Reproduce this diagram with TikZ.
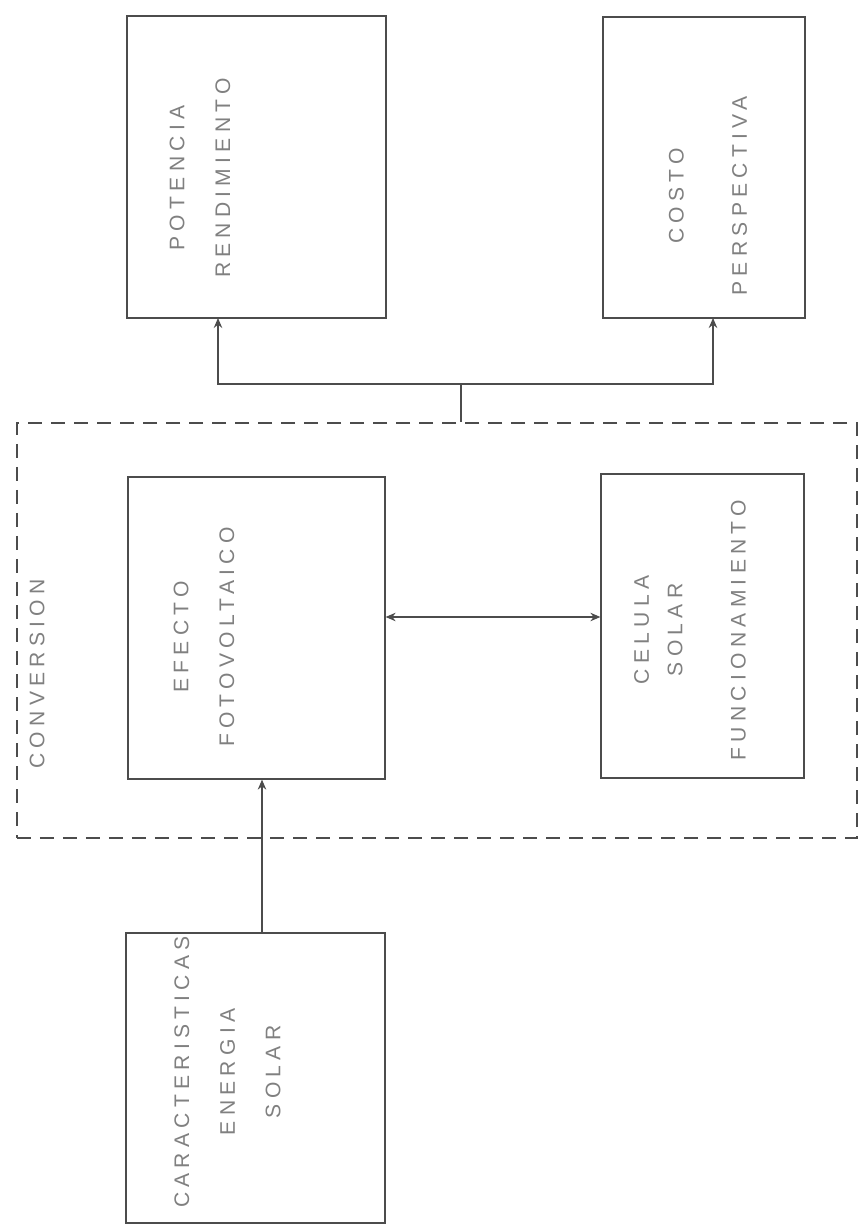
\documentclass[tikz,border=0pt]{standalone}
\usepackage{fontspec}
\newfontfamily\boxfont[LetterSpace=25]{Liberation Sans}
\usetikzlibrary{arrows.meta, positioning}

\begin{document}
\begin{tikzpicture}[x=0.2mm, y=-0.2mm,
    box/.style={draw=black!70, line width=0.7pt, rectangle, inner sep=0pt},
    lbl/.style={rotate=90, align=center, text=black!50, font=\boxfont\fontsize{12}{26}\selectfont},
    flecha/.style={draw=black!70, line width=0.7pt, -{Stealth[length=2mm, width=1.7mm]}}]
    \useasboundingbox (0,0) rectangle (859,1226);

    % Cajas de resultados
    \node (pot) [box, minimum width=51.8mm, minimum height=60.4mm] at (256.5,167) {};
    \node (cost) [box, minimum width=40.4mm, minimum height=60.2mm] at (704,167.5) {};
    \node (potT) [lbl] at (200,178) {POTENCIA\\RENDIMIENTO};
    \node (costT) [lbl] at (708,196) {COSTO\\[10pt]PERSPECTIVA};

    % Bloque de conversion
    \node (conv) [draw=black!70, line width=0.7pt, dash pattern=on 2.8mm off 1.8mm, rectangle, minimum width=168mm, minimum height=83mm] at (437,630.5) {};
    \node (convT) [lbl] at (37,674) {CONVERSION};
    \node (efe) [box, minimum width=51.4mm, minimum height=60.4mm] at (256.5,628) {};
    \node (cel) [box, minimum width=40.6mm, minimum height=60.8mm] at (702.5,626) {};
    \node (efeT) [lbl] at (204,637) {EFECTO\\FOTOVOLTAICO};
    \node (celT) [lbl] at (690,630) {CELULA\\[-7pt]SOLAR\\[10pt]FUNCIONAMIENTO};

    % Caja de entrada
    \node (car) [box, minimum width=51.8mm, minimum height=58mm] at (255.5,1078) {};
    \node (carT) [lbl] at (227.5,1072) {CARACTERISTICAS\\ENERGIA\\SOLAR};

    % Flechas
    \coordinate (rama) at (461,384);
    \draw[draw=black!70, line width=0.7pt] (rama) -- (rama |- conv.north);
    \draw[flecha] (rama) -| (713,318);
    \draw[flecha] (rama) -| (218,318);
    \draw[flecha, {Stealth[length=2mm, width=1.7mm]}-{Stealth[length=2mm, width=1.7mm]}] (efe.east |- 0,617) -- (cel.west |- 0,617);
    \draw[flecha] (car.north -| 262,0) -- (efe.south -| 262,0);
\end{tikzpicture}
\end{document}
